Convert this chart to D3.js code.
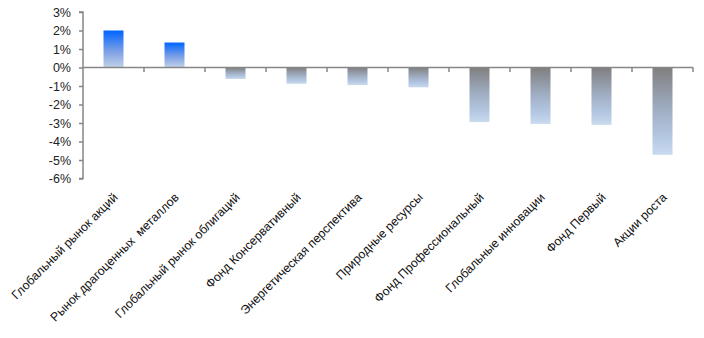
<!DOCTYPE html>
<html><head><meta charset="utf-8">
<script src="https://cdn.jsdelivr.net/npm/d3@7"></script>
<style>
html,body{margin:0;padding:0;background:#fff;}
text{font-family:"Liberation Sans","DejaVu Sans",sans-serif;}
</style></head>
<body><svg id="c" width="704" height="338"></svg>
<script>
const categories = ["Глобальный рынок акций","Рынок драгоценных  металлов","Глобальный рынок облигаций","Фонд Консервативный","Энергетическая перспектива","Природные ресурсы","Фонд Профессиональный","Глобальные инновации","Фонд Первый","Акции роста"];
const values = [2.0, 1.35, -0.62, -0.88, -0.95, -1.07, -2.95, -3.05, -3.1, -4.72];
const yTicks = [3,2,1,0,-1,-2,-3,-4,-5,-6];

(function(){
const svg = d3.select("#c");
const pL = 83, pR = 693, pT = 12, pB = 178.5;
const x = d3.scaleBand().domain(categories).range([pL, pR]).paddingInner(0).paddingOuter(0);
const y = d3.scaleLinear().domain([-6, 3]).range([pB, pT]);

const defs = svg.append("defs");
const gp = defs.append("linearGradient").attr("id","gpos").attr("x1",0).attr("y1",0).attr("x2",0).attr("y2",1);
gp.append("stop").attr("offset","0%").attr("stop-color","#0064ff");
gp.append("stop").attr("offset","55%").attr("stop-color","#7a9fe6");
gp.append("stop").attr("offset","100%").attr("stop-color","#c2d2e8");
const gn = defs.append("linearGradient").attr("id","gneg").attr("x1",0).attr("y1",0).attr("x2",0).attr("y2",1);
gn.append("stop").attr("offset","0%").attr("stop-color","#7f7f7f");
gn.append("stop").attr("offset","45%").attr("stop-color","#9eabbf");
gn.append("stop").attr("offset","80%").attr("stop-color","#b4c8e3");
gn.append("stop").attr("offset","100%").attr("stop-color","#cadaee");

const barW = 20;
svg.append("g").selectAll("rect").data(values).join("rect")
  .attr("x",(d,i)=>x(categories[i]) + x.bandwidth()/2 - barW/2)
  .attr("y",d=>y(Math.max(0,d)))
  .attr("width",barW)
  .attr("height",d=>Math.abs(y(d)-y(0)))
  .attr("fill",d=>d>=0?"url(#gpos)":"url(#gneg)");

const yAxis = d3.axisLeft(y).tickValues(yTicks).tickSize(4).tickPadding(8).tickFormat(d=>d+"%");
const ga = svg.append("g").attr("transform",`translate(${pL},0)`).call(yAxis);
ga.select(".domain").attr("stroke","#868686").attr("stroke-width",1.5).attr("d",`M-4,${pT}H0V${pB}H-4`);
ga.selectAll(".tick line").attr("stroke","#868686").attr("stroke-width",1.5);
ga.selectAll(".tick text").attr("fill","#222").style("font-size","12.5px").style("font-family","'Liberation Sans',sans-serif");

const xb = svg.append("g");
xb.append("line").attr("x1",pL).attr("x2",pR).attr("y1",y(0)).attr("y2",y(0)).attr("stroke","#868686").attr("stroke-width",1.5);
const bounds = categories.map(c=>x(c)+x.bandwidth());
xb.selectAll("line.t").data(bounds).join("line").attr("class","t")
  .attr("x1",d=>d).attr("x2",d=>d).attr("y1",y(0)).attr("y2",y(0)+4.5)
  .attr("stroke","#868686").attr("stroke-width",1.5);

svg.append("g").selectAll("text").data(categories).join("text")
  .attr("transform",c=>`translate(${x(c)+x.bandwidth()/2+2},${195}) rotate(-45)`)
  .attr("text-anchor","end")
  .attr("dy","0.35em")
  .style("font-size","12.3px")
  .style("white-space","pre")
  .attr("fill","#111")
  .text(c=>c);
})();
</script></body></html>
